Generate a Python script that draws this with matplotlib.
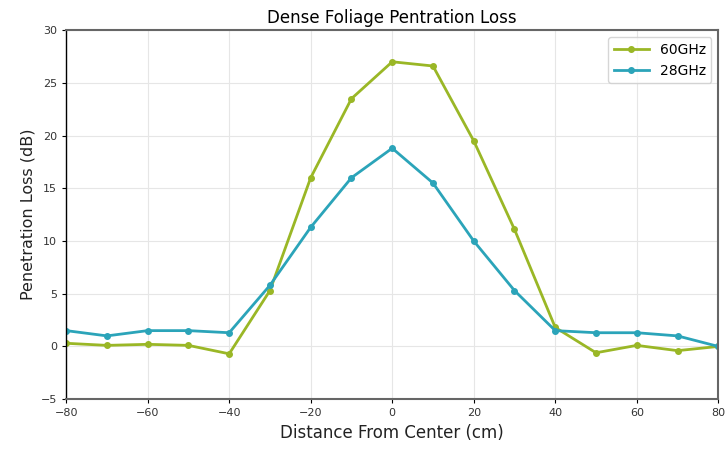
import matplotlib
matplotlib.use("Agg")
import matplotlib.pyplot as plt

distance = [-80, -70, -60, -50, -40, -30, -20, -10, 0, 10, 20, 30, 40, 50, 60, 70, 80]
loss_60ghz = [0.3, 0.1, 0.2, 0.1, -0.7, 5.3, 16.0, 23.5, 27.0, 26.6, 19.5, 11.1, 1.8, -0.6, 0.1, -0.4, 0.0]
loss_28ghz = [1.5, 1.0, 1.5, 1.5, 1.3, 5.8, 11.3, 16.0, 18.8, 15.5, 10.0, 5.3, 1.5, 1.3, 1.3, 1.0, 0.0]

fig = plt.figure(figsize=(7.27, 4.5), dpi=100)
ax = fig.add_axes([0.091, 0.113, 0.897, 0.82])
ax.plot(distance, loss_60ghz, color="#9ab726", marker="o", markersize=4, linewidth=2, label="60GHz")
ax.plot(distance, loss_28ghz, color="#2ba4b9", marker="o", markersize=4, linewidth=2, label="28GHz")
ax.set_xlim(-80, 80)
ax.set_ylim(-5, 30)
ax.set_xticks(range(-80, 81, 20))
ax.set_yticks(range(-5, 31, 5))
ax.grid(True, color="#e6e6e6", linewidth=0.8)
ax.tick_params(labelsize=8, length=3, labelcolor="#333333")
for side in ("top", "bottom", "right"):
    ax.spines[side].set_color("#666666")
    ax.spines[side].set_linewidth(1.5)
ax.spines["left"].set_color("black")
ax.spines["left"].set_linewidth(1.0)
ax.set_xlabel("Distance From Center (cm)", fontsize=12, color="#222222")
ax.set_ylabel("Penetration Loss (dB)", fontsize=11.5, color="#222222")
ax.set_title("Dense Foliage Pentration Loss", fontsize=12, pad=5)
ax.legend(loc="upper right", fontsize=10, handlelength=2.5)
fig.savefig("out.png", dpi=100)
